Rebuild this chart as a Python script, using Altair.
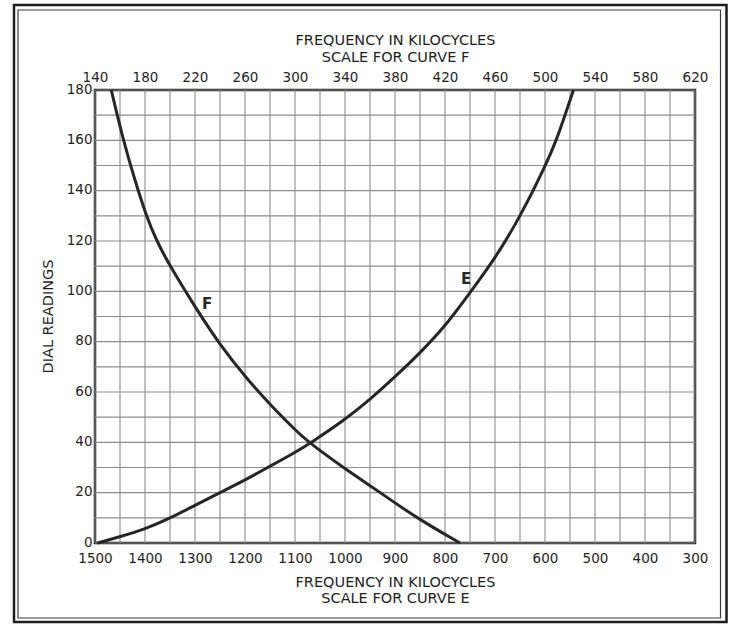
import altair as alt
import pandas as pd

# Curve E: dial reading against frequency (bottom scale, kc)
e_freq = [1495, 1450, 1400, 1350, 1300, 1250, 1200, 1150, 1100, 1070, 1000,
          950, 900, 850, 800, 750, 700, 650, 600, 575, 550, 543]
e_dial = [0, 2.5, 5.5, 9.8, 15, 20, 25, 30.5, 36, 39.6, 49,
          57, 66, 75.5, 86, 99.5, 113, 129.5, 149.5, 161, 176, 180]

# Curve F: dial reading against frequency (top scale, kc)
f_freq = [153, 162.6, 172, 181, 189.3, 200, 221, 241, 261, 281, 301, 311,
          337, 367, 397, 432]
f_dial = [180, 160, 144, 130, 120, 110, 93, 78, 65.5, 54.5, 44.5, 40,
          30.5, 20.5, 10, 0]

# Curve name labels
e_label = {"freq": [758], "dial": [105], "name": ["E"]}
f_label = {"freq": [229.6], "dial": [95], "name": ["F"]}

bottom_ticks = list(range(300, 1501, 100))
bottom_grid = list(range(300, 1501, 50))
top_ticks = list(range(140, 621, 40))
dial_ticks = list(range(0, 181, 20))
dial_grid = list(range(0, 181, 10))

FONT = "DejaVu Sans"
INK = "#1e1e1e"
GRID = "#8c8c8c"

e_df = pd.DataFrame({"freq_e": e_freq, "dial": e_dial})
f_df = pd.DataFrame({"freq_f": f_freq, "dial": f_dial})
e_lab = pd.DataFrame({"freq_e": e_label["freq"], "dial": e_label["dial"], "name": e_label["name"]})
f_lab = pd.DataFrame({"freq_f": f_label["freq"], "dial": f_label["dial"], "name": f_label["name"]})
vgrid_df = pd.DataFrame({"freq_e": bottom_grid})
hgrid_df = pd.DataFrame({"dial": dial_grid})

y_enc = alt.Y(
    "dial:Q",
    scale=alt.Scale(domain=[0, 180], nice=False, zero=False),
    axis=alt.Axis(
        values=dial_ticks, grid=False, ticks=False, domain=False,
        labelFont=FONT, labelFontSize=13.5, labelColor=INK, labelPadding=3,
        labelOffset=-1, labelOverlap=False, labelFlush=False,
        title="DIAL READINGS", titleFont=FONT, titleFontSize=14.5,
        titleFontWeight="normal", titleColor=INK,
        titleAngle=270, titleX=-47, titleY=226, titleAlign="center",
        titleBaseline="middle",
    ),
)

x_e = alt.X(
    "freq_e:Q",
    scale=alt.Scale(domain=[300, 1500], reverse=True, nice=False, zero=False),
    axis=alt.Axis(
        orient="bottom", values=bottom_ticks, format="d",
        grid=False, ticks=False, domain=False,
        labelFont=FONT, labelFontSize=13.5, labelColor=INK, labelPadding=8,
        labelOverlap=False, labelFlush=False,
        title=["FREQUENCY IN KILOCYCLES", "SCALE FOR CURVE E"],
        titleFont=FONT, titleFontSize=14.5, titleFontWeight="normal",
        titleColor=INK, titleBaseline="top", titleY=32, titleLineHeight=16.5,
    ),
)

x_f = alt.X(
    "freq_f:Q",
    scale=alt.Scale(domain=[140, 620], nice=False, zero=False),
    axis=alt.Axis(
        orient="top", values=top_ticks, format="d",
        grid=False, ticks=False, domain=False,
        labelFont=FONT, labelFontSize=13.5, labelColor=INK, labelPadding=6,
        labelOverlap=False, labelFlush=False,
        title=["FREQUENCY IN KILOCYCLES", "SCALE FOR CURVE F"],
        titleFont=FONT, titleFontSize=14.5, titleFontWeight="normal",
        titleColor=INK, titleBaseline="top", titleY=-57, titleLineHeight=17,
    ),
)

# Square graph-paper grid: every 50 kc on the bottom scale, every 10 dial divisions
vgrid = alt.Chart(vgrid_df).mark_rule(color=GRID, strokeWidth=1.1).encode(x=x_e)
hgrid = alt.Chart(hgrid_df).mark_rule(color=GRID, strokeWidth=1.1).encode(y=y_enc)

e_line = alt.Chart(e_df).mark_line(
    color="#262626", strokeWidth=3, interpolate="basis"
).encode(x="freq_e:Q", y="dial:Q")
e_text = alt.Chart(e_lab).mark_text(
    font=FONT, fontSize=15, fontWeight="bold", color="#262626"
).encode(x="freq_e:Q", y="dial:Q", text="name:N")

f_line = alt.Chart(f_df).mark_line(
    color="#262626", strokeWidth=3, interpolate="basis"
).encode(x=x_f, y="dial:Q")
f_text = alt.Chart(f_lab).mark_text(
    font=FONT, fontSize=15, fontWeight="bold", color="#262626"
).encode(x="freq_f:Q", y="dial:Q", text="name:N")

# Double rule border around the whole figure
frame_df = pd.DataFrame({"k": [0]})
outer = alt.Chart(frame_df).mark_rect(
    fillOpacity=0, stroke="#1e1e1e", strokeWidth=2.5
).encode(x=alt.value(-81), x2=alt.value(631.5), y=alt.value(-85), y2=alt.value(532))
inner = alt.Chart(frame_df).mark_rect(
    fillOpacity=0, stroke="#3a3a3a", strokeWidth=1.2
).encode(x=alt.value(-77), x2=alt.value(625.5), y=alt.value(-80), y2=alt.value(528))

chart = alt.layer(
    alt.layer(vgrid, hgrid, e_line, e_text),
    alt.layer(f_line, f_text),
    outer, inner,
).resolve_scale(x="independent").properties(
    width=600, height=453,
    autosize=alt.AutoSizeParams(type="none"),
    padding={"left": 95, "top": 90, "right": 40, "bottom": 83},
    background="white",
).configure_view(stroke="#1a1a1a", strokeWidth=2.5)

chart.save("out.html", embed_options={"renderer": "svg", "actions": False})
